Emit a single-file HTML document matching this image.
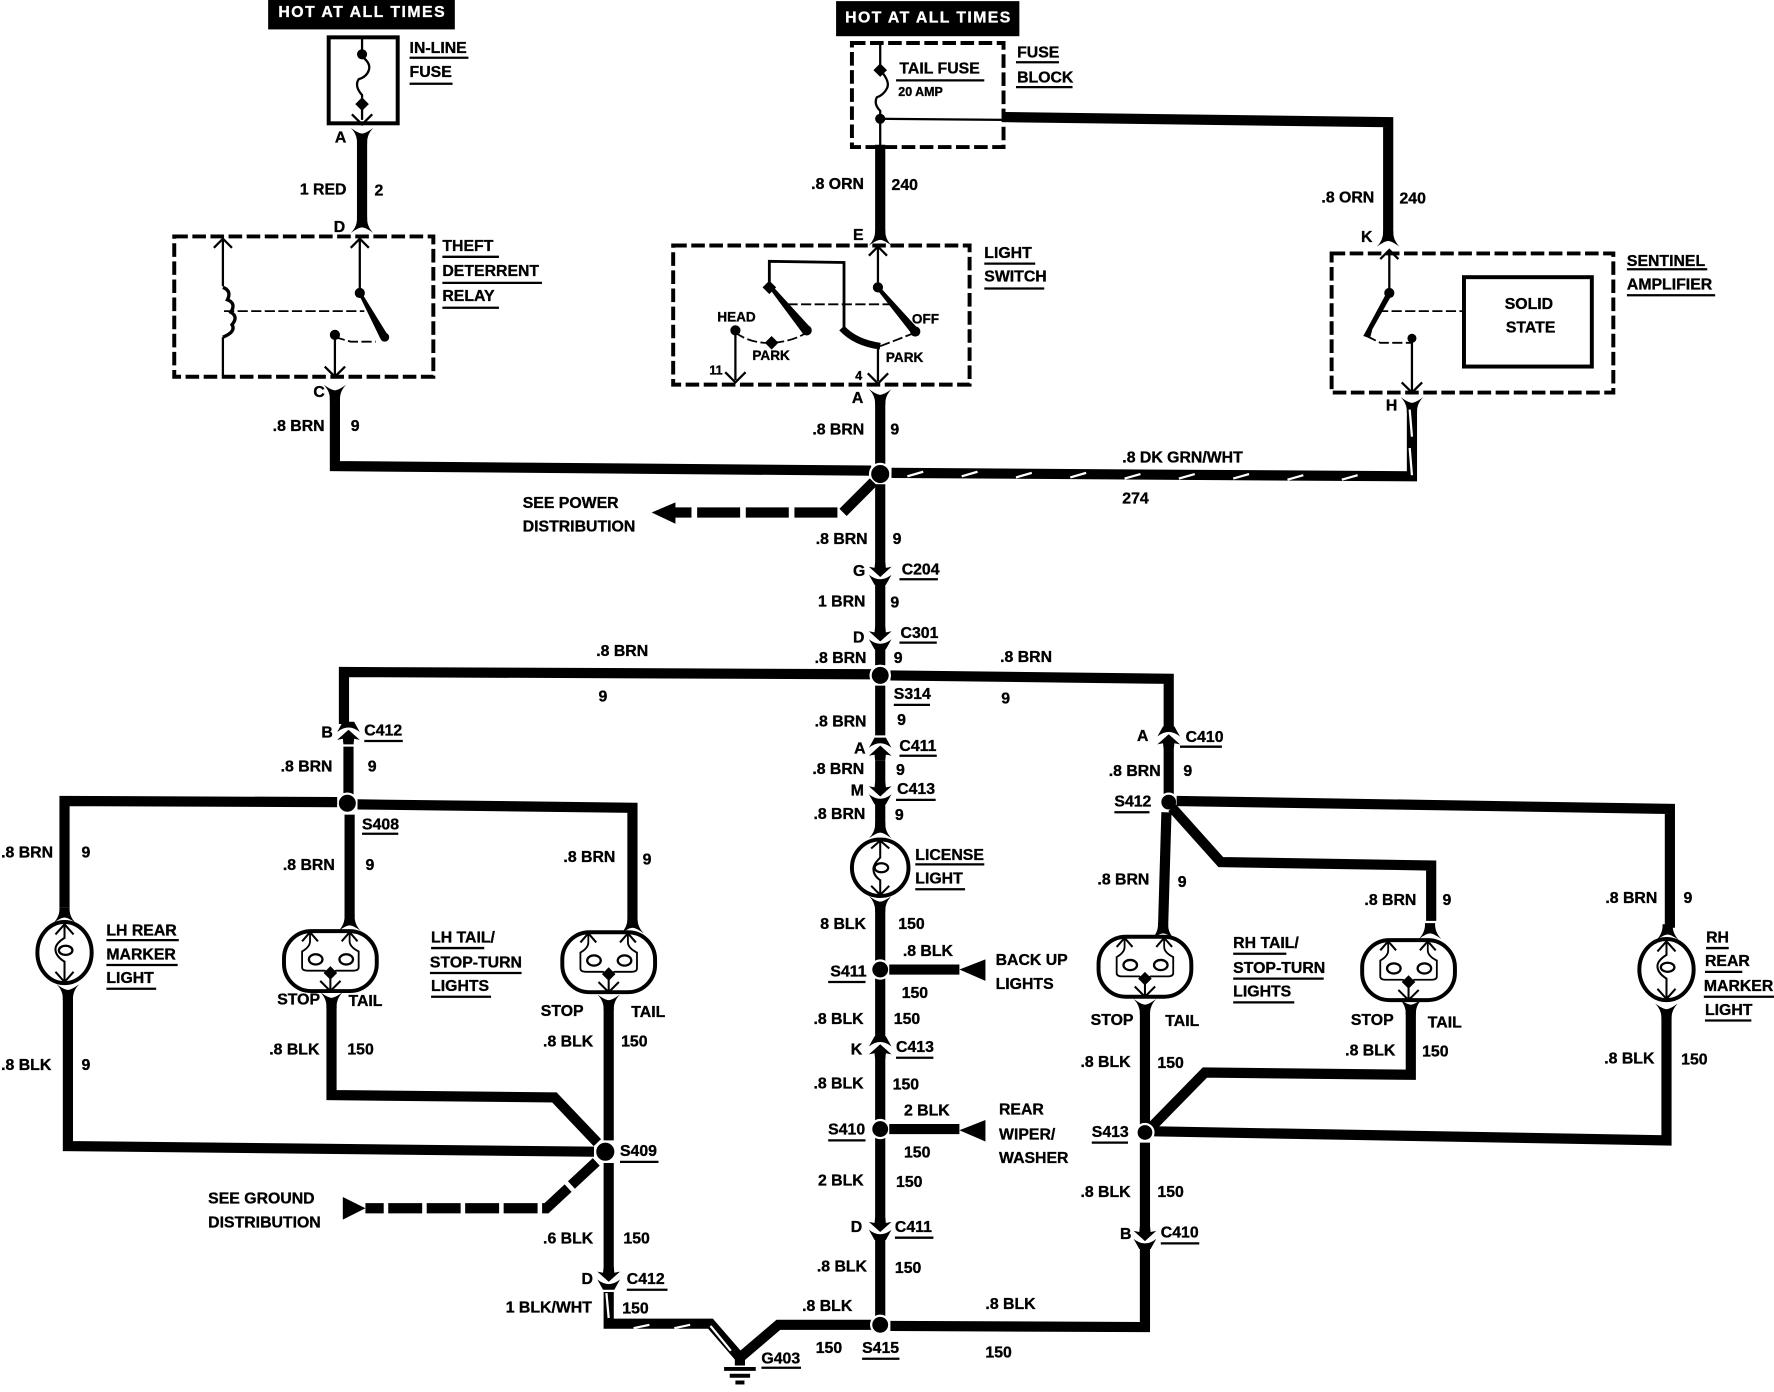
<!DOCTYPE html>
<html><head><meta charset="utf-8"><style>
html,body{margin:0;padding:0;background:#fff}
svg{display:block}
text{font-family:"Liberation Sans",sans-serif;font-weight:700;font-size:14px;fill:#000;stroke:#000;stroke-width:.3}
.wt{fill:#fff;stroke:#fff}
.w{fill:none;stroke:#000;stroke-width:9;stroke-linejoin:miter}
.t{fill:none;stroke:#000;stroke-width:2}
.b{fill:none;stroke:#000;stroke-width:3.5}
.d{fill:none;stroke:#000;stroke-width:3.5;stroke-dasharray:12 4}
.h{fill:none;stroke:#000;stroke-width:1.6;stroke-dasharray:9 3}
.s{fill:none;stroke:#fff;stroke-width:1.8;stroke-dasharray:14 32}
.sl{fill:none;stroke:#fff;stroke-width:2}
.u{fill:none;stroke:#000;stroke-width:2}
.p{fill:none;stroke:#000;stroke-width:9;stroke-dasharray:38 5}
.n{fill:#000;stroke:#fff;stroke-width:2}
</style></head><body>
<svg width="1774" height="1392" viewBox="0 0 1568 1230.4" xmlns="http://www.w3.org/2000/svg">
<defs>
<g id="conn"><path d="M-4.5,-10 L4.5,-10 L5,-5 L10,-6 L0,3 L-10,-6 L-5,-5Z"/><path d="M-10,1 Q0,9 10,1 L5,10 L-5,10Z"/></g>
<g id="yd"><path d="M-10,-5 Q-4,1 -4.5,9 L4.5,9 Q4,1 10,-5 Q3,0 0,0 Q-3,0 -10,-5Z"/></g>
<g id="yu"><path d="M-10,5 Q-4,-1 -4.5,-9 L4.5,-9 Q4,-1 10,5 Q3,0 0,0 Q-3,0 -10,5Z"/></g>
<g id="au" class="t"><path class="t" d="M-8,8 L0,0 L8,8"/></g>
<g id="ad"><path class="t" d="M-9,-9 L0,0 L9,-9"/></g>
<g id="lw">
<rect class="b" x="-41" y="-26" width="82" height="53" rx="24" ry="24"/>
<path class="t" style="stroke-width:1.6" d="M-18,-25 V-17 Q-18,-12 -25,-8 V6 Q-25,9 -20,9 H-5 L0,12 L5,9 H20 Q25,9 25,6 V-8 Q17,-12 17,-17 V-25"/>
<path class="t" style="stroke-width:1.8" d="M-25,-17 L-18,-25 L-11,-17 M10,-17 L17,-25 L24,-17 M-9,18 L0,27 L9,18 M0,12 V27"/>
<ellipse class="t" cx="-13" cy="-1" rx="6" ry="4.5"/><ellipse class="t" cx="14" cy="-1" rx="6" ry="4.5"/>
<path d="M0,5 L6,11 L0,17 L-6,11Z"/>
</g>
<g id="lr">
<ellipse class="b" cx="0" cy="0" rx="24" ry="27"/>
<path class="t" style="stroke-width:1.8" d="M-8,-16 L0,-25 L8,-16 M-8,17 L0,26 L8,17 M0,-25 V-13 Q-8,-8 -8,-3 Q-8,3 0,8 V26"/>
<ellipse class="t" cx="1" cy="-2" rx="6" ry="4"/>
</g>
</defs>
<rect width="1568" height="1231" fill="#fff"/>

<!-- header blocks -->
<rect x="237" y="0" width="165" height="26"/><text class="wt" x="246" y="15" textLength="147">HOT AT ALL TIMES</text>
<rect x="739" y="1" width="162" height="31"/><text class="wt" x="747" y="20" textLength="146">HOT AT ALL TIMES</text>

<!-- in-line fuse -->
<rect class="b" x="290.500" y="33" width="61" height="76"/>
<path class="t" d="M320,34 V50 Q328,56 326,62 Q324,68 317,70 Q313,76 320,84 V106"/>
<circle cx="320" cy="48" r="4.500"/><path d="M320,86 L326,92 L320,98 L314,92Z"/>
<use href="#ad" x="320" y="110"/>
<use href="#yd" x="320" y="118"/>
<path class="w" d="M320,124 V200"/>
<use href="#yu" x="320" y="201"/>

<!-- theft relay -->
<rect class="d" x="154" y="209" width="229" height="124"/>
<use href="#au" x="197" y="211"/><use href="#au" x="318" y="211"/>
<path class="t" d="M197,211 V253 M197,298 V332"/>
<path class="t" style="stroke-width:3" d="M197,254 q8,3 4,11 q8,3 3,11 q7,4 1,11 q4,6 -8,11"/>
<path class="h" d="M198,275 H322"/>
<path class="t" d="M318,211 V259"/>
<circle cx="318" cy="259" r="4.500"/>
<path d="M318,262 L321,261 L342,295 L342,301 L336,299Z"/><circle cx="340" cy="298" r="4"/>
<circle cx="296" cy="296" r="4.500"/>
<path class="h" d="M296,298 L310,302 H332"/>
<path class="t" d="M296,296 V332"/><use href="#ad" x="296" y="333"/>
<use href="#yd" x="296" y="345"/>

<!-- fuse block -->
<rect class="d" x="753" y="38" width="134" height="92"/>
<path class="t" d="M778,38 V62 Q787,72 784,78 Q781,84 775,86 Q772,92 778,98 V130"/>
<path d="M778,56 L784,62 L778,68 L772,62Z"/><circle cx="778" cy="105" r="4.500"/>
<path class="t" d="M778,105 L887,106"/>
<path class="w" d="M887,103.500 L1227,108 V210"/>
<use href="#yu" x="1227" y="213"/>
<path class="w" d="M778,128 V208"/>
<use href="#yu" x="778" y="212"/>

<!-- light switch -->
<rect class="d" x="595" y="217" width="262" height="123"/>
<use href="#au" x="776" y="218"/>
<path class="t" d="M776,218 V254"/><circle cx="776" cy="254" r="4.500"/>
<path d="M776,257 L779,255 L811,290 L811,296 L805,294Z"/><circle cx="809" cy="293" r="4.500"/>
<path class="t" style="stroke-width:2.500" d="M680,253 V231 L746,232 V289"/>
<path d="M680,248 L686,254 L680,260 L674,254Z"/>
<path d="M680,255 L683,253 L715,288 L715,296 L709,294Z"/><circle cx="713" cy="292" r="4.500"/>
<circle cx="650" cy="292" r="4.500"/><path d="M682,297 L688,303 L682,309 L676,303Z"/>
<path class="h" d="M650,294 Q664,304 682,303 Q700,302 713,294"/>
<path class="h" d="M696,269 H789"/>
<path class="t" d="M650,292 V336"/><use href="#ad" x="650" y="338"/>
<path class="t" style="stroke-width:6" d="M744,290 Q756,303 778,306"/>
<path class="h" d="M778,306 L809,294"/>
<path class="t" d="M776,306 V337"/><use href="#ad" x="776" y="339"/>
<use href="#yd" x="778" y="349"/>
<path class="w" d="M778,354 V411"/>

<!-- sentinel -->
<rect class="d" x="1177" y="224" width="249" height="123"/>
<rect class="b" x="1294" y="245" width="113" height="79"/>
<use href="#au" x="1228" y="221"/>
<path class="t" d="M1228,222 V258"/><circle cx="1228" cy="259" r="4.500"/>
<path d="M1226,258 L1230,261 L1213,291 L1211,299 L1205,297Z"/>
<circle cx="1248" cy="299" r="4"/>
<path class="h" d="M1208,297 L1220,303 H1248"/>
<path class="h" d="M1218,275 H1293"/>
<path class="t" d="M1248,299 V346"/><use href="#ad" x="1248" y="347"/>
<use href="#yd" x="1248" y="356"/>

<!-- upper junction wires -->
<path class="w" d="M296,351 V412 L770,416"/>
<path class="w" d="M788,418 L1248,421 V360"/>
<path class="sl" d="M802,421 l14,-4 M850,421 l14,-4 M898,422 l14,-4 M946,422 l14,-4 M994,423 l14,-4 M1042,423 l14,-4 M1090,423 l14,-4 M1138,424 l14,-4 M1186,424 l14,-4 M1246,362 l2,24 M1246,396 l2,24"/>
<circle class="n" cx="778" cy="419" r="9"/>
<path class="p" d="M772,426 L745,453 H592"/>
<path d="M576,453 L597,444 V463Z"/>
<path class="w" d="M778,428 V500"/>
<use href="#conn" x="778" y="507"/>
<path class="w" d="M778,516 V556"/>
<use href="#conn" x="778" y="564"/>
<path class="w" d="M778,572 V588"/>
<path class="w" d="M770,596 L304,594 V640"/>
<path class="w" d="M787,597 L1033,600 V645"/>
<circle class="n" cx="778" cy="597" r="8.500"/>
<path class="w" d="M778,606 V650"/>
<use href="#conn" x="778" y="662" transform="rotate(180 778 662)"/>
<path class="w" d="M778,672 V692"/>
<use href="#conn" x="778" y="701"/>
<path class="w" d="M778,710 V734"/>
<use href="#yu" x="778" y="736"/>

<!-- license -->
<circle class="b" cx="778" cy="767" r="25"/>
<path class="t" style="stroke-width:1.8" d="M770,750 L778,743 L786,750 M770,783 L778,791 L786,783 M778,743 V758 Q772,764 772,768 Q772,774 778,778 V791"/>
<ellipse class="t" cx="779" cy="767" rx="6" ry="4"/>
<use href="#yd" x="778" y="797"/>
<path class="w" d="M778,802 V1164"/>
<circle class="n" cx="778" cy="857" r="8"/><path class="w" d="M786,857 H848"/><path d="M848,857 L871,848 V867Z"/>
<circle class="n" cx="778" cy="998" r="8"/><path class="w" d="M786,998 H848"/><path d="M848,999 L871,990 V1009Z"/>
<rect x="768" y="1078" width="20" height="16" fill="#fff"/>
<use href="#conn" x="778" y="1086"/>
<rect x="768" y="918" width="20" height="16" fill="#fff"/>
<use href="#conn" x="778" y="926" transform="rotate(180 778 926)"/>

<!-- left lamps -->
<use href="#conn" x="308" y="648" transform="rotate(180 308 648)"/>
<path class="w" d="M308,660 V702"/>
<circle class="n" cx="307" cy="710" r="8.500"/>
<path class="w" d="M298,709 L57,708 V802"/>
<path class="w" d="M316,711 L559,714 V812"/>
<path class="w" d="M309,720 V810"/>
<use href="#yu" x="57" y="811"/><use href="#yu" x="309" y="818"/><use href="#yu" x="559" y="820"/>
<use href="#lr" x="57" y="842"/>
<use href="#lw" x="292" y="849"/>
<use href="#lw" x="538" y="850"/>
<use href="#yd" x="60" y="875"/><use href="#yd" x="293" y="882"/><use href="#yd" x="538" y="884"/>
<path class="w" d="M60,880 V1013 L525,1018"/>
<path class="w" d="M293,888 V968 L490,970 L528,1010"/>
<path class="w" d="M538,890 V1008"/>
<circle class="n" cx="535" cy="1018" r="9"/>
<path class="p" d="M527,1027 L483,1068 H323" style="stroke-dasharray:30 4"/>
<path d="M303,1058 L323,1068 L303,1078Z"/>
<path class="w" d="M538,1028 V1122"/>
<use href="#conn" x="538" y="1130"/>
<path class="w" d="M538,1142 V1170 H628 L654,1200"/>
<path class="sl" d="M536,1143 l2,22 M560,1174 l14,-3 M596,1174 l14,-3 M628,1172 l18,22"/>
<path class="w" d="M654,1200 L688,1171 H770"/>
<path class="w" d="M654,1196 V1207"/>
<path class="b" d="M640,1210 H668 M645,1216 H663" /><path class="b" d="M650,1222 H658"/>
<circle class="n" cx="778" cy="1171" r="8"/>
<path class="w" d="M787,1172 L1012,1173 V1103"/>

<!-- right lamps -->
<use href="#conn" x="1033" y="652" transform="rotate(180 1033 652)"/>
<path class="w" d="M1033,662 V702"/>
<circle class="n" cx="1033" cy="709" r="7.500"/>
<path class="w" d="M1040,708 L1476,715 V820"/>
<path class="w" d="M1036,714 L1079,762 L1265,765 V814"/>
<path class="w" d="M1031,718 L1028,820"/>
<use href="#yu" x="1028" y="825"/><use href="#yu" x="1264" y="825"/><use href="#yu" x="1474" y="826"/>
<use href="#lw" x="1012" y="854"/>
<use href="#lw" x="1245" y="857"/>
<use href="#lr" x="1473" y="857"/>
<use href="#yd" x="1012" y="888"/><use href="#yd" x="1247" y="888"/><use href="#yd" x="1473" y="892"/>
<path class="w" d="M1012,894 V995"/>
<path class="w" d="M1247,894 V950 L1065,948 L1018,996"/>
<path class="w" d="M1473,898 V1008 L1020,1000"/>
<circle class="n" cx="1012" cy="1001" r="7.500"/>
<path class="w" d="M1012,1010 V1086"/>
<use href="#conn" x="1012" y="1094"/>

<!-- underlines -->
<path class="u" d="M362,51 H414 M362,74 H400 M391,227 H441 M391,250 H479 M391,272 H441 M792,71 H870 M898,55 H936 M898,77 H948 M870,233 H915 M870,255 H923 M1438,238 H1509 M1438,261 H1516 M795,512 H829 M795,568 H828 M790,623 H822 M322,655 H356 M795,668 H828 M792,707 H827 M320,737 H352 M1043,660 H1080 M985,718 H1016 M809,764 H870 M809,786 H853 M94,831 H158 M94,853 H157 M94,874 H138 M381,838 H428 M380,860 H461 M381,881 H434 M1090,843 H1137 M1090,865 H1170 M1090,886 H1144 M1508,838 H1528 M1507,859 H1540 M1506,881 H1568 M1507,902 H1548 M732,868 H765 M792,935 H825 M732,1008 H765 M791,1094 H825 M965,1010 H997 M1026,1099 H1060 M548,1027 H582 M554,1140 H590 M762,1201 H795 M673,1209 H708"/>

<!-- labels -->
<text x="362" y="47">IN-LINE</text><text x="362" y="68">FUSE</text>
<text x="296" y="126">A</text><text x="265" y="172">1 RED</text><text x="331" y="173">2</text><text x="295" y="205">D</text>
<text x="391" y="222">THEFT</text><text x="391" y="244">DETERRENT</text><text x="391" y="266">RELAY</text>
<text x="277" y="351">C</text><text x="241" y="381">.8 BRN</text><text x="310" y="381">9</text>
<text x="795" y="65">TAIL FUSE</text><text x="794" y="85" style="font-size:11px">20 AMP</text>
<text x="899" y="51">FUSE</text><text x="899" y="73">BLOCK</text>
<text x="717" y="167">.8 ORN</text><text x="788" y="168">240</text><text x="754" y="212">E</text>
<text x="870" y="228">LIGHT</text><text x="870" y="249">SWITCH</text>
<text x="634" y="284" style="font-size:12px">HEAD</text><text x="806" y="286" style="font-size:12px">OFF</text>
<text x="665" y="318" style="font-size:12px">PARK</text><text x="783" y="320" style="font-size:12px">PARK</text>
<text x="627" y="331" style="font-size:11px">11</text><text x="756" y="336" style="font-size:11px">4</text>
<text x="753" y="356">A</text><text x="718" y="384">.8 BRN</text><text x="787" y="384">9</text>
<text x="1438" y="235">SENTINEL</text><text x="1438" y="256">AMPLIFIER</text>
<text x="1330" y="273">SOLID</text><text x="1331" y="294">STATE</text>
<text x="1168" y="179">.8 ORN</text><text x="1237" y="180">240</text><text x="1203" y="214">K</text><text x="1225" y="363">H</text>
<text x="992" y="409">.8 DK GRN/WHT</text><text x="992" y="445">274</text>
<text x="462" y="449">SEE POWER</text><text x="462" y="470">DISTRIBUTION</text>
<text x="721" y="481">.8 BRN</text><text x="789" y="481">9</text><text x="754" y="509">G</text><text x="797" y="508">C204</text>
<text x="723" y="536">1 BRN</text><text x="787" y="537">9</text><text x="754" y="568">D</text><text x="796" y="564">C301</text>
<text x="720" y="586">.8 BRN</text><text x="790" y="586">9</text>
<text x="527" y="580">.8 BRN</text><text x="529" y="620">9</text><text x="884" y="585">.8 BRN</text><text x="885" y="622">9</text>
<text x="790" y="618">S314</text><text x="720" y="642">.8 BRN</text><text x="793" y="641">9</text>
<text x="755" y="666">A</text><text x="795" y="664">C411</text><text x="718" y="684">.8 BRN</text><text x="792" y="685">9</text>
<text x="752" y="703">M</text><text x="793" y="702">C413</text><text x="719" y="724">.8 BRN</text><text x="791" y="725">9</text>
<text x="809" y="760">LICENSE</text><text x="809" y="781">LIGHT</text>
<text x="725" y="821">8 BLK</text><text x="794" y="821">150</text>
<text x="734" y="863">S411</text><text x="798" y="845">.8 BLK</text><text x="797" y="882">150</text>
<text x="880" y="853">BACK UP</text><text x="880" y="874">LIGHTS</text>
<text x="719" y="905">.8 BLK</text><text x="790" y="905">150</text><text x="752" y="932">K</text><text x="792" y="930">C413</text>
<text x="719" y="962">.8 BLK</text><text x="789" y="963">150</text><text x="732" y="1003">S410</text>
<text x="799" y="986">2 BLK</text><text x="799" y="1023">150</text>
<text x="883" y="985">REAR</text><text x="883" y="1007">WIPER/</text><text x="883" y="1028">WASHER</text>
<text x="723" y="1048">2 BLK</text><text x="792" y="1049">150</text><text x="752" y="1089">D</text><text x="791" y="1089">C411</text>
<text x="722" y="1124">.8 BLK</text><text x="791" y="1125">150</text>
<text x="709" y="1159">.8 BLK</text><text x="721" y="1196">150</text><text x="762" y="1196">S415</text>
<text x="871" y="1157">.8 BLK</text><text x="871" y="1200">150</text><text x="673" y="1205">G403</text>
<text x="284" y="652">B</text><text x="322" y="650">C412</text><text x="248" y="682">.8 BRN</text><text x="325" y="682">9</text>
<text x="320" y="733">S408</text><text x="1" y="758">.8 BRN</text><text x="72" y="758">9</text>
<text x="250" y="769">.8 BRN</text><text x="323" y="769">9</text><text x="498" y="762">.8 BRN</text><text x="568" y="764">9</text>
<text x="94" y="827">LH REAR</text><text x="94" y="848">MARKER</text><text x="94" y="869">LIGHT</text>
<text x="381" y="833">LH TAIL/</text><text x="380" y="855">STOP-TURN</text><text x="381" y="876">LIGHTS</text>
<text x="245" y="888">STOP</text><text x="308" y="889">TAIL</text><text x="238" y="932">.8 BLK</text><text x="307" y="932">150</text>
<text x="478" y="898">STOP</text><text x="558" y="899">TAIL</text><text x="480" y="925">.8 BLK</text><text x="549" y="925">150</text>
<text x="1" y="946">.8 BLK</text><text x="72" y="946">9</text><text x="548" y="1022">S409</text>
<text x="184" y="1064">SEE GROUND</text><text x="184" y="1085">DISTRIBUTION</text>
<text x="480" y="1099">.6 BLK</text><text x="551" y="1099">150</text><text x="514" y="1135">D</text><text x="554" y="1135">C412</text>
<text x="447" y="1160">1 BLK/WHT</text><text x="550" y="1161">150</text>
<text x="1005" y="655">A</text><text x="1048" y="656">C410</text><text x="980" y="686">.8 BRN</text><text x="1046" y="686">9</text>
<text x="985" y="713">S412</text><text x="970" y="782">.8 BRN</text><text x="1041" y="784">9</text>
<text x="1206" y="800">.8 BRN</text><text x="1275" y="800">9</text><text x="1419" y="798">.8 BRN</text><text x="1488" y="798">9</text>
<text x="1090" y="838">RH TAIL/</text><text x="1090" y="860">STOP-TURN</text><text x="1090" y="881">LIGHTS</text>
<text x="1508" y="833">RH</text><text x="1507" y="854">REAR</text><text x="1506" y="876">MARKER</text><text x="1507" y="897">LIGHT</text>
<text x="964" y="906">STOP</text><text x="1030" y="907">TAIL</text><text x="955" y="943">.8 BLK</text><text x="1023" y="944">150</text>
<text x="1194" y="906">STOP</text><text x="1262" y="908">TAIL</text><text x="1189" y="933">.8 BLK</text><text x="1257" y="934">150</text>
<text x="1418" y="940">.8 BLK</text><text x="1486" y="941">150</text>
<text x="965" y="1005">S413</text><text x="955" y="1058">.8 BLK</text><text x="1023" y="1058">150</text>
<text x="990" y="1095">B</text><text x="1026" y="1094">C410</text>
</svg>
</body></html>
